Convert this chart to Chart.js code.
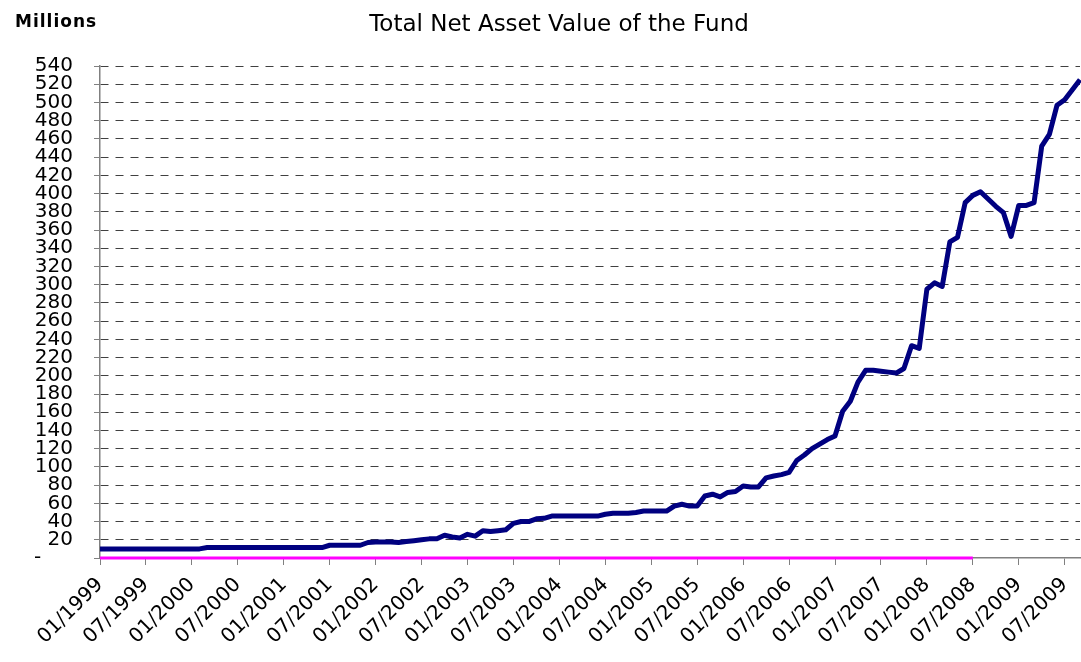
<!DOCTYPE html>
<html>
<head>
<meta charset="utf-8">
<title>Total Net Asset Value of the Fund</title>
<script src="https://cdn.jsdelivr.net/npm/chart.js@4.4.0/dist/chart.umd.min.js"></script>
<style>
  html, body { margin: 0; padding: 0; background: #fff; }
  #wrap { width: 1081px; height: 662px; position: relative; }
</style>
</head>
<body>
<div id="wrap"><canvas id="navChart"></canvas></div>
<script>
// Monthly NAV in millions, 01/1999 .. 09/2009
const nav1999 = [10, 10, 10, 10, 10, 10, 10, 10, 10, 10, 10, 10];
const nav2000 = [10, 10, 11.5, 11.5, 11.5, 11.5, 11.5, 11.5, 11.5, 11.5, 11.5, 11.5];
const nav2001 = [11.5, 11.5, 11.5, 11.5, 11.5, 11.5, 14, 14, 14, 14, 14, 17];
const nav2002 = [17.5, 17.5, 17.5, 17, 18, 19, 20, 21, 21, 25, 23, 22];
const nav2003 = [26, 24, 30, 29, 30, 31, 38, 40, 40, 43, 43.5, 46];
const nav2004 = [46, 46, 46, 46, 46, 46, 48, 49, 49, 49, 50, 51.5];
const nav2005 = [51.5, 51.5, 51.5, 57, 59, 57, 57, 68, 70, 67, 72, 73];
const nav2006 = [79, 78, 78, 88, 90, 91.5, 94, 107, 113, 120, 125, 130];
const nav2007 = [134, 161, 172, 193, 206, 206, 205, 204, 203, 208, 233, 230];
const nav2008 = [295, 302, 298, 347, 352, 390, 398, 402, 394, 386, 379, 353];
const nav2009 = [387, 387, 390, 452, 465, 497, 503, 514, 525];

const navValues = [].concat(nav1999, nav2000, nav2001, nav2002, nav2003, nav2004,
  nav2005, nav2006, nav2007, nav2008, nav2009);

// the pink zero series runs up to this month
const zeroSeriesEnd = '07/2008';

// month categories
const months = [];
for (let y = 1999; y <= 2009; y++) {
  for (let m = 1; m <= 12; m++) {
    if (months.length < navValues.length) months.push(String(m).padStart(2, '0') + '/' + y);
  }
}
const zeroEndIdx = months.indexOf(zeroSeriesEnd);
const zeroValues = months.map((m, i) => (i <= zeroEndIdx ? 0 : null));

const yTicksMax = 540;
const yTicksStep = 20;

const FONT = '"DejaVu Sans", Verdana, sans-serif';

// title texts drawn on the canvas
const headerPlugin = {
  id: 'header',
  afterDraw(chart) {
    const ctx = chart.ctx;
    ctx.save();
    ctx.fillStyle = '#000';
    ctx.textBaseline = 'alphabetic';
    ctx.textAlign = 'center';
    ctx.font = '23px ' + FONT;
    ctx.fillText('Total Net Asset Value of the Fund', 559, 31);
    ctx.textAlign = 'left';
    ctx.font = 'bold 17px ' + FONT;
    ctx.letterSpacing = '1px';
    ctx.fillText('Millions', 15, 27);
    ctx.restore();
  }
};

const ctx = document.getElementById('navChart').getContext('2d');
new Chart(ctx, {
  type: 'line',
  data: {
    labels: months,
    datasets: [
      {
        label: 'Zero',
        data: zeroValues,
        borderColor: '#ff00ff',
        borderWidth: 3,
        pointRadius: 0,
        tension: 0,
        spanGaps: false,
        clip: false
      },
      {
        label: 'Total Net Asset Value',
        data: navValues,
        borderColor: '#000080',
        borderWidth: 5,
        pointRadius: 0,
        tension: 0,
        borderJoinStyle: 'round'
      }
    ]
  },
  options: {
    responsive: true,
    maintainAspectRatio: false,
    animation: false,
    layout: { padding: { top: 66, right: 1, left: 0, bottom: 0 } },
    plugins: {
      legend: { display: false },
      title: { display: false },
      tooltip: { enabled: false }
    },
    scales: {
      x: {
        type: 'category',
        offset: false,
        afterFit: (scale) => {
          scale.height = 104;
          scale.paddingRight = 0;
          scale.paddingLeft = 0;
        },
        grid: {
          drawOnChartArea: false,
          drawTicks: true,
          tickLength: 7,
          tickColor: (c) => (c.index % 6 === 0 ? '#808080' : 'rgba(0,0,0,0)'),
          color: 'rgba(0,0,0,0)'
        },
        border: { display: true, color: '#808080', width: 1.5 },
        ticks: {
          autoSkip: false,
          maxRotation: 45,
          minRotation: 45,
          padding: 8,
          color: '#000',
          font: { family: FONT, size: 20 },
          callback: function (value, index) {
            return index % 6 === 0 ? this.getLabelForValue(value) : '';
          }
        }
      },
      y: {
        min: 0,
        max: yTicksMax,
        afterFit: (scale) => { scale.width = 100; },
        grid: {
          drawTicks: true,
          tickLength: 6,
          tickColor: '#808080',
          color: (c) => (c.tick && c.tick.value === 0 ? 'rgba(0,0,0,0)' : '#404040'),
          lineWidth: 1
        },
        border: { display: true, color: '#808080', width: 1.5, dash: [8, 7] },
        ticks: {
          stepSize: yTicksStep,
          autoSkip: false,
          padding: 21,
          color: '#000',
          font: { family: FONT, size: 20 },
          callback: (v) => (v === 0 ? '-\u00a0\u00a0\u00a0\u00a0\u00a0' : v)
        }
      }
    }
  },
  plugins: [headerPlugin]
});
</script>
</body>
</html>
